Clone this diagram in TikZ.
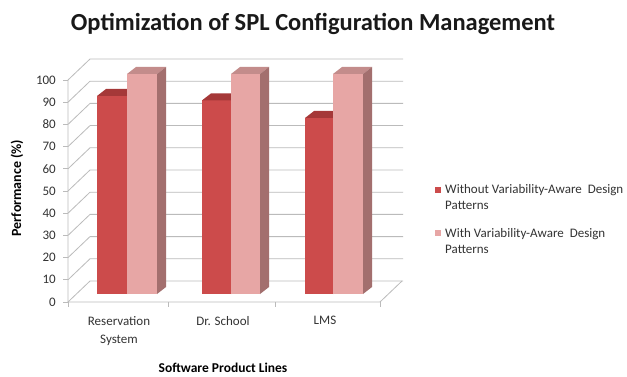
\documentclass[tikz,border=0pt]{standalone}
\usepackage{fontspec}
\setmainfont{Carlito}
\definecolor{gridgray}{HTML}{BBBBBB}
\definecolor{labelgray}{HTML}{333333}
\definecolor{darkfront}{HTML}{CC4B4B}
\definecolor{darktop}{HTML}{A53838}
\definecolor{darkside}{HTML}{9E3434}
\definecolor{lightfront}{HTML}{E7A6A5}
\definecolor{lighttop}{HTML}{C38C8B}
\definecolor{lightside}{HTML}{A36F6E}

% 3-D column: left x, right x, value, front / top / side colours
\newcommand{\chartbar}[6]{%
  \pgfmathsetmacro\barTop{294-2.2*#3}%
  \fill[#4] (#1,294) rectangle (#2,\barTop);
  \fill[#5] (#1,\barTop) -- (#2,\barTop) -- ++(9,-7) -- (#1+9,\barTop-7) -- cycle;
  \fill[#6] (#2,294) -- (#2,\barTop) -- ++(9,-7) -- (#2+9,287) -- cycle;
}

\begin{document}
\begin{tikzpicture}[x=1pt,y=-1pt,
  grid/.style={draw=gridgray,line width=0.8pt},
  ytick/.style={anchor=east,text=labelgray,font=\fontsize{13}{15}\selectfont,inner sep=0pt},
  catlabel/.style={text=labelgray,align=center,font=\fontsize{13}{18}\selectfont,inner sep=0pt},
  axistitle/.style={text=black,font=\bfseries\fontsize{13.5}{15}\selectfont,inner sep=0pt},
  legtext/.style={anchor=base west,text=labelgray,align=left,font=\fontsize{13}{17}\selectfont,inner sep=0pt}]
\useasboundingbox[fill=white] (0,0) rectangle (627,377);

% title
\node[font=\bfseries\fontsize{24.5}{28}\selectfont,text=black!90] (title) at (313,24) {Optimization of SPL Configuration Management};

% side wall, back wall and value labels
\foreach \k in {0,...,10} {
  \draw[grid] (68,{302-22.2*\k}) -- (90,{281-22.2*\k}) -- (403,{281-22.2*\k});
  \draw[grid] (63,{302-22.2*\k}) -- (68,{302-22.2*\k});
  \pgfmathtruncatemacro\val{10*\k}
  \node[ytick] (yl\k) at (56,{302-22.2*\k}) {\val};
}
% front axis, floor and category ticks
\draw[grid] (68,80) -- (68,302) -- (380,302) -- (402,281);
\foreach \x in {68,168,275,380} \draw[grid] (\x,302) -- (\x,307);

% columns
\chartbar{97}{127}{90}{darkfront}{darktop}{darkside}
\chartbar{127}{157}{100}{lightfront}{lighttop}{lightside}
\chartbar{202}{231}{88}{darkfront}{darktop}{darkside}
\chartbar{231}{260}{100}{lightfront}{lighttop}{lightside}
\chartbar{305}{333}{80}{darkfront}{darktop}{darkside}
\chartbar{333}{363}{100}{lightfront}{lighttop}{lightside}

% category labels
\node[catlabel,anchor=north] (c1) at (119,316) {Reservation\\System};
\node[catlabel,anchor=north] (c2) at (223,316) {Dr. School};
\node[catlabel,anchor=north] (c3) at (325,316) {LMS};

% axis titles
\node[axistitle,rotate=90,font=\bfseries\fontsize{14}{16}\selectfont] (ytitle) at (17,188) {Performance (\%)};
\node[axistitle,anchor=base] (xtitle) at (223,372) {Software Product Lines};

% legend (base anchor sits on the last line)
\fill[darkfront] (435,187) rectangle (441,193);
\node[legtext] (leg1) at (445,210) {Without Variability-Aware\ \ Design\\Patterns};
\fill[lightfront] (435,230) rectangle (441,236);
\node[legtext] (leg2) at (445,254) {With Variability-Aware\ \ Design\\Patterns};
\end{tikzpicture}
\end{document}
